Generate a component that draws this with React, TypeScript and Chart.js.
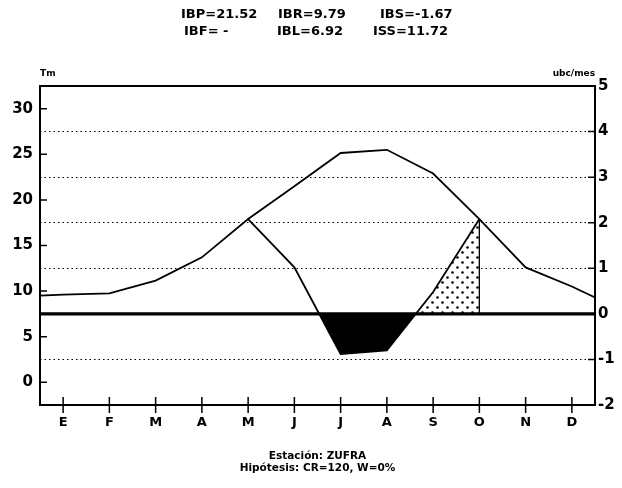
import { useEffect, useRef } from "react";
import { Chart, registerables } from "chart.js";
Chart.register(...registerables);

// ---- data ----
const MONTHS = ["E", "F", "M", "A", "M", "J", "J", "A", "S", "O", "N", "D"];
// mean temperature (left axis, Tm)
const TM = [9.6, 9.75, 11.15, 13.7, 17.9, 21.5, 25.15, 25.5, 22.9, 17.9, 12.6, 10.5];
// values of the curve at the plot edges (left / right)
const TM_EDGE_START = 9.5;
const TM_EDGE_END = 9.3;
// conditioned curve, from May (index 4) to October (index 9)
const TC_START = 4;
const TC = [17.9, 12.6, 3.1, 3.5, 9.9, 17.9];
// base temperature (right-axis zero)
const BASE_T = 7.5;
const LEFT_TICKS = [0, 5, 10, 15, 20, 25, 30];
const RIGHT_TICKS = [-2, -1, 0, 1, 2, 3, 4, 5];
const TITLE_ROW1 = ["IBP=21.52", "IBR=9.79", "IBS=-1.67"];
const TITLE_ROW2 = ["IBF= -", "IBL=6.92", "ISS=11.72"];
const LEFT_UNIT = "Tm";
const RIGHT_UNIT = "ubc/mes";
const FOOTER = ["Estación: ZUFRA", "Hipótesis: CR=120, W=0%"];

const FONT = "'DejaVu Sans', 'Liberation Sans', sans-serif";

function makeDots(): CanvasPattern | string {
  const c = document.createElement("canvas");
  c.width = 10;
  c.height = 10;
  const g = c.getContext("2d");
  if (!g) return "#888";
  g.fillStyle = "#fff";
  g.fillRect(0, 0, 10, 10);
  g.fillStyle = "#000";
  g.beginPath();
  g.arc(2.5, 2.5, 1.3, 0, Math.PI * 2);
  g.fill();
  g.beginPath();
  g.arc(7.5, 7.5, 1.3, 0, Math.PI * 2);
  g.fill();
  return g.createPattern(c, "repeat") || "#888";
}

export default function App() {
  const ref = useRef<HTMLCanvasElement | null>(null);

  useEffect(() => {
    if (!ref.current) return;
    const tcPts = TC.map((y, i) => ({ x: TC_START + i, y }));
    const tmPts = [
      { x: -0.5, y: TM_EDGE_START },
      ...TM.map((y, i) => ({ x: i, y })),
      { x: 11.5, y: TM_EDGE_END },
    ];
    const last = tcPts[tcPts.length - 1];

    const decor = {
      id: "decor",
      afterDraw(chart: any) {
        const { ctx, chartArea: a, scales } = chart;
        const x = scales.x, yl = scales.y, yr = scales.yR;
        ctx.save();
        ctx.strokeStyle = "#000";
        ctx.lineWidth = 2;
        ctx.strokeRect(a.left, a.top, a.right - a.left, a.bottom - a.top);
        ctx.lineWidth = 1.5;
        ctx.beginPath();
        LEFT_TICKS.forEach((v) => {
          const p = yl.getPixelForValue(v);
          ctx.moveTo(a.left, p);
          ctx.lineTo(a.left + 7, p);
        });
        RIGHT_TICKS.forEach((v) => {
          const p = yr.getPixelForValue(v);
          ctx.moveTo(a.right - 7, p);
          ctx.lineTo(a.right, p);
        });
        MONTHS.forEach((_, i) => {
          const p = x.getPixelForValue(i);
          ctx.moveTo(p, a.bottom - 8);
          ctx.lineTo(p, a.bottom + 8);
        });
        ctx.stroke();

        ctx.fillStyle = "#000";
        ctx.textBaseline = "middle";
        ctx.textAlign = "left";
        ctx.font = `bold 13px ${FONT}`;
        const c1 = [181, 278, 380];
        const c2 = [184, 277, 373];
        TITLE_ROW1.forEach((t, i) => ctx.fillText(t, c1[i], 15));
        TITLE_ROW2.forEach((t, i) => ctx.fillText(t, c2[i], 32));
        ctx.font = `bold 9px ${FONT}`;
        ctx.fillText(LEFT_UNIT, a.left, 74);
        ctx.textAlign = "right";
        ctx.fillText(RIGHT_UNIT, a.right, 74);
        ctx.textAlign = "center";
        ctx.font = `bold 10.5px ${FONT}`;
        const cx = (a.left + a.right) / 2;
        ctx.fillText(FOOTER[0], cx, 456);
        ctx.fillText(FOOTER[1], cx, 468);
        ctx.restore();
      },
    };

    const chart = new Chart(ref.current, {
      type: "line",
      data: {
        datasets: [
          {
            data: tmPts,
            borderColor: "#000",
            borderWidth: 1.8,
            pointRadius: 0,
            fill: false,
            tension: 0,
          },
          {
            data: tcPts,
            borderColor: "#000",
            borderWidth: 1.8,
            pointRadius: 0,
            fill: false,
          },
          {
            data: [{ x: last.x, y: last.y }, { x: last.x, y: BASE_T }],
            borderColor: "#000",
            borderWidth: 1,
            pointRadius: 0,
            fill: false,
          },
          {
            data: [{ x: -0.5, y: BASE_T }, { x: 11.5, y: BASE_T }],
            borderColor: "#000",
            borderWidth: 3.2,
            pointRadius: 0,
            fill: false,
          },
          {
            data: tcPts.slice(1, 5),
            borderWidth: 0,
            borderColor: "rgba(0,0,0,0)",
            pointRadius: 0,
            fill: { target: { value: BASE_T }, above: "rgba(0,0,0,0)", below: "#000" },
          },
          {
            data: tcPts.slice(3),
            borderWidth: 0,
            borderColor: "rgba(0,0,0,0)",
            pointRadius: 0,
            fill: { target: { value: BASE_T }, above: makeDots(), below: "rgba(0,0,0,0)" },
          },
        ] as any,
      },
      options: {
        animation: false,
        responsive: false,
        maintainAspectRatio: false,
        devicePixelRatio: 1,
        layout: { padding: { top: 86, left: 0, right: 0, bottom: 0 } },
        plugins: { legend: { display: false }, tooltip: { enabled: false }, title: { display: false } },
        scales: {
          x: {
            type: "linear",
            min: -0.5,
            max: 11.5,
            afterBuildTicks: (s: any) => {
              s.ticks = MONTHS.map((_, i) => ({ value: i }));
            },
            afterFit: (s: any) => {
              s.height = 83;
            },
            ticks: {
              autoSkip: false,
              maxRotation: 0,
              padding: 10,
              color: "#000",
              font: { family: FONT, weight: "bold", size: 13 },
              callback: (v: any) => MONTHS[Number(v)] ?? "",
            },
            grid: { display: false, drawTicks: false },
            border: { display: false },
          },
          y: {
            type: "linear",
            position: "left",
            min: -2.5,
            max: 32.5,
            afterBuildTicks: (s: any) => {
              s.ticks = LEFT_TICKS.map((v) => ({ value: v }));
            },
            afterFit: (s: any) => {
              s.width = 40;
            },
            ticks: {
              padding: 7,
              color: "#000",
              font: { family: FONT, weight: "bold", size: 15 },
            },
            grid: { display: false, drawTicks: false },
            border: { display: false },
          },
          yR: {
            type: "linear",
            axis: "y",
            position: "right",
            min: -2,
            max: 5,
            afterBuildTicks: (s: any) => {
              s.ticks = RIGHT_TICKS.map((v) => ({ value: v }));
            },
            afterFit: (s: any) => {
              s.width = 27;
            },
            ticks: {
              padding: 3,
              color: "#000",
              font: { family: FONT, weight: "bold", size: 15 },
            },
            grid: {
              drawTicks: false,
              lineWidth: 1,
              color: (c: any) =>
                c.tick && (c.tick.value === 0 || c.tick.value === 5 || c.tick.value === -2)
                  ? "rgba(0,0,0,0)"
                  : "#000",
            },
            border: { display: false, dash: [1.5, 3] },
          },
        } as any,
      },
      plugins: [decor],
    });
    return () => chart.destroy();
  }, []);

  return (
    <div style={{ position: "fixed", left: 0, top: 0, width: 622, height: 488, background: "#fff" }}>
      <canvas ref={ref} width={622} height={488} />
    </div>
  );
}
